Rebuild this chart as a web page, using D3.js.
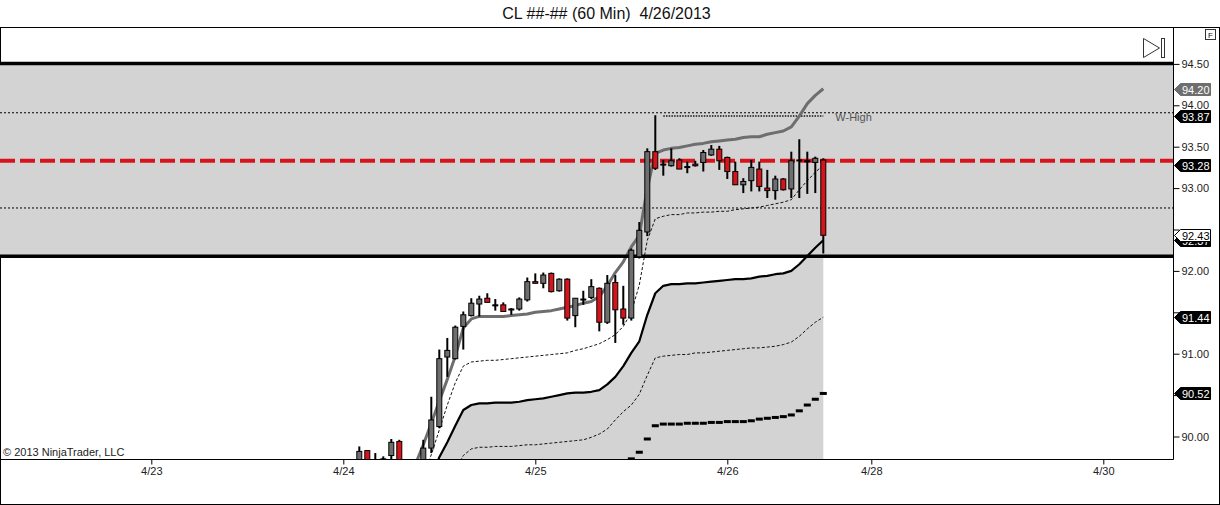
<!DOCTYPE html>
<html><head><meta charset="utf-8">
<script src="https://cdn.jsdelivr.net/npm/d3@7/dist/d3.min.js"></script>
<style>
html,body{margin:0;padding:0;background:#fff;overflow:hidden;}
svg{display:block;font-family:"Liberation Sans",Arial,sans-serif;}
</style></head><body>
<svg id="chart" width="1220" height="505"></svg>
<script>
// ---------------- data ----------------
const title = "CL ##-## (60 Min)  4/26/2013";
const firstBar = 2; // bar index of first candle (4/24 session start = bar 0)
const tickLabels = ["4/23", "4/24", "4/25", "4/26", "4/28", "4/30"];
const tickBars = [-24, 0, 24, 48, 66, 95];
const priceTicks = [90.0, 90.5, 91.0, 91.5, 92.0, 92.5, 93.0, 93.5, 94.0, 94.5];

const opens  = [89.60,89.83,89.65,89.73,89.77,89.94,89.55,89.50,89.60,89.86,90.12,90.96,90.94,91.33,91.46,91.60,91.67,91.59,91.59,91.54,91.54,91.65,91.87,91.85,91.97,91.76,91.90,91.46,91.65,91.68,91.79,91.38,91.86,91.54,91.43,92.17,92.47,93.44,93.29,93.27,93.34,93.26,93.29,93.31,93.40,93.47,93.37,93.20,93.04,93.09,93.23,93.00,92.97,93.11,92.99,93.33,93.33,93.31,93.34];
const highs  = [89.88,89.83,89.80,89.76,89.97,89.96,89.65,89.62,89.96,90.48,91.05,91.19,91.34,91.51,91.67,91.70,91.73,91.66,91.62,91.55,91.68,91.92,91.97,91.98,91.98,91.91,91.91,91.67,91.76,91.90,91.80,91.95,91.95,91.82,92.27,92.59,93.48,93.88,93.34,93.48,93.36,93.32,93.33,93.46,93.52,93.51,93.38,93.32,93.12,93.34,93.32,93.22,93.15,93.12,93.44,93.59,93.44,93.38,93.36];
const lows   = [89.50,89.50,89.55,89.60,89.60,89.50,89.40,89.35,89.50,89.80,90.10,90.72,90.93,91.05,91.45,91.45,91.62,91.52,91.51,91.47,91.52,91.63,91.85,91.79,91.74,91.75,91.40,91.32,91.59,91.66,91.27,91.36,91.13,91.35,91.40,92.15,92.42,93.22,93.15,93.26,93.23,93.18,93.26,93.20,93.39,93.22,93.11,93.04,92.94,92.96,92.96,92.88,92.86,92.97,92.88,92.88,92.93,92.94,92.21];
const closes = [89.82,89.60,89.65,89.73,89.93,89.60,89.50,89.58,89.86,90.20,90.94,91.04,91.32,91.47,91.61,91.66,91.62,91.59,91.51,91.53,91.66,91.87,91.85,91.95,91.75,91.90,91.43,91.67,91.66,91.81,91.38,91.85,91.53,91.43,92.25,92.49,93.44,93.24,93.28,93.33,93.23,93.26,93.27,93.43,93.47,93.33,93.20,93.04,93.08,93.25,93.02,92.97,93.11,92.98,93.33,93.34,93.33,93.36,92.43];

// thick gray moving average
const maLine = [null,null,null,null,null,null,null,89.66,89.90,90.16,90.43,90.69,90.97,91.31,91.42,91.45,91.45,91.45,91.45,91.46,91.47,91.48,91.50,91.51,91.52,91.54,91.56,91.58,91.61,91.63,91.69,91.82,91.98,92.11,92.29,92.43,93.00,93.42,93.46,93.48,93.49,93.51,93.53,93.54,93.56,93.57,93.58,93.59,93.61,93.62,93.62,93.65,93.67,93.69,93.74,93.87,94.02,94.12,94.20];
// thin dashed upper line
const upperDashed = [null,null,null,null,null,null,null,null,89.53,89.78,90.08,90.38,90.65,90.85,90.90,90.91,90.92,90.92,90.93,90.94,90.95,90.96,90.97,90.98,90.99,91.00,91.01,91.04,91.06,91.09,91.12,91.17,91.23,91.33,91.50,91.83,92.37,92.63,92.66,92.68,92.68,92.70,92.70,92.71,92.71,92.72,92.72,92.74,92.75,92.76,92.77,92.79,92.81,92.83,92.86,92.98,93.09,93.19,93.28];
// thick black line (top of shaded area)
const blackLine = [null,null,null,null,null,null,null,null,null,89.50,89.75,89.93,90.13,90.32,90.38,90.40,90.40,90.41,90.41,90.41,90.42,90.44,90.45,90.46,90.48,90.50,90.52,90.53,90.53,90.54,90.56,90.63,90.72,90.85,91.01,91.15,91.47,91.73,91.82,91.84,91.84,91.85,91.85,91.86,91.87,91.88,91.89,91.90,91.90,91.91,91.93,91.94,91.96,91.97,92.00,92.08,92.18,92.28,92.37];
// thin dashed lower line
const lowerDashed = [null,null,null,null,null,null,null,null,null,null,null,null,89.60,89.77,89.85,89.87,89.87,89.88,89.88,89.88,89.89,89.90,89.90,89.91,89.92,89.93,89.94,89.95,89.96,89.99,90.03,90.09,90.20,90.30,90.38,90.51,90.74,90.95,90.97,90.98,90.99,90.99,91.01,91.01,91.02,91.03,91.04,91.05,91.06,91.07,91.07,91.08,91.09,91.11,91.14,91.21,91.30,91.38,91.44];
// block markers
const markerLine = [null,null,null,null,null,null,null,null,null,null,null,null,null,null,null,null,null,null,null,null,null,null,null,null,null,null,null,null,null,null,null,null,null,null,89.73,89.81,89.97,90.13,90.15,90.15,90.15,90.16,90.16,90.16,90.17,90.17,90.18,90.18,90.18,90.19,90.21,90.22,90.23,90.24,90.26,90.31,90.38,90.45,90.52];

// horizontal levels
const zoneTop = 94.50, zoneBottom = 92.17;
const dottedLevels = [93.91, 92.76];
const redLevel = 93.33;
const wHigh = 93.87, wHighStartBar = 40, wHighEndBar = 60;

// ---------------- layout ----------------
const W = 1220, H = 505;
const plotL = 0, plotR = 1173, plotT = 28, plotB = 459;
const x = d3.scaleLinear().domain([-42.9125, 103.7125]).range([plotL, plotR]);
const y = d3.scaleLinear().domain([90, 94.5]).range([436.5, 63.9]);
const FONT = '"Liberation Sans",Arial,sans-serif';

const svg = d3.select("#chart");
svg.append("rect").attr("width", W).attr("height", H).attr("fill", "#fff");

// title
svg.append("text").attr("x", 606.5).attr("y", 19).attr("text-anchor", "middle")
  .attr("font-size", 16).attr("fill", "#111").style("white-space", "pre").text(title);

// frame
svg.append("rect").attr("x", 0.5).attr("y", 27.5).attr("width", W - 1).attr("height", H - 28)
  .attr("fill", "none").attr("stroke", "#000");

const defs = svg.append("defs");
defs.append("clipPath").attr("id", "plotclip").append("rect")
  .attr("x", plotL).attr("y", plotT).attr("width", plotR - plotL).attr("height", plotB - plotT);

const plot = svg.append("g").attr("clip-path", "url(#plotclip)");

const bars = opens.map((o, i) => ({
  j: firstBar + i, o, h: highs[i], l: lows[i], c: closes[i],
  ma: maLine[i], ud: upperDashed[i], bl: blackLine[i], ld: lowerDashed[i], mk: markerLine[i]
}));

// gray zone
plot.append("rect").attr("x", plotL).attr("width", plotR - plotL)
  .attr("y", y(zoneTop)).attr("height", y(zoneBottom) - y(zoneTop)).attr("fill", "#d3d3d3");

// thin dotted full-width levels
dottedLevels.forEach(v => {
  plot.append("line").attr("x1", plotL).attr("x2", plotR).attr("y1", y(v)).attr("y2", y(v))
    .attr("stroke", "#000").attr("stroke-width", 1).attr("stroke-dasharray", "2,2");
});

// shaded area below black line
const area = d3.area().defined(d => d.bl != null)
  .x(d => x(d.j)).y0(plotB + 10).y1(d => y(d.bl));
plot.append("path").datum(bars).attr("d", area).attr("fill", "#d3d3d3");

// lower dashed
const mkLine = key => d3.line().defined(d => d[key] != null).x(d => x(d.j)).y(d => y(d[key]));
plot.append("path").datum(bars).attr("d", mkLine("ld")).attr("fill", "none")
  .attr("stroke", "#111").attr("stroke-width", 1).attr("stroke-dasharray", "3,2");

// black thick line
plot.append("path").datum(bars).attr("d", mkLine("bl")).attr("fill", "none")
  .attr("stroke", "#000").attr("stroke-width", 2.2).attr("stroke-linejoin", "round");

// block markers
plot.selectAll("rect.mk").data(bars.filter(d => d.mk != null)).join("rect").attr("class", "mk")
  .attr("x", d => x(d.j) - 3.5).attr("y", d => y(d.mk) - 1.5).attr("width", 7).attr("height", 3)
  .attr("fill", "#000");

// upper dashed
plot.append("path").datum(bars).attr("d", mkLine("ud")).attr("fill", "none")
  .attr("stroke", "#111").attr("stroke-width", 1).attr("stroke-dasharray", "3,2");

// W-High
plot.append("line").attr("x1", x(wHighStartBar)).attr("x2", x(wHighEndBar))
  .attr("y1", y(wHigh)).attr("y2", y(wHigh))
  .attr("stroke", "#444").attr("stroke-width", 2).attr("stroke-dasharray", "1.5,1.2");
plot.append("text").attr("x", x(wHighEndBar) + 12).attr("y", y(wHigh) + 4.5)
  .attr("font-size", 11).attr("fill", "#555").text("W-High");

// red dashed level
plot.append("line").attr("x1", plotL).attr("x2", plotR).attr("y1", y(redLevel)).attr("y2", y(redLevel))
  .attr("stroke", "#d7141c").attr("stroke-width", 4).attr("stroke-dasharray", "15,5");

// moving average
plot.append("path").datum(bars).attr("d", mkLine("ma")).attr("fill", "none")
  .attr("stroke", "#6e6e6e").attr("stroke-width", 3).attr("stroke-linejoin", "round");

// zone bounding thick lines
[zoneTop, zoneBottom].forEach(v => {
  plot.append("line").attr("x1", plotL).attr("x2", plotR).attr("y1", y(v) - 0.5).attr("y2", y(v) - 0.5)
    .attr("stroke", "#000").attr("stroke-width", 3.5);
});

// candles
const cg = plot.append("g");
cg.selectAll("line.wick").data(bars).join("line").attr("class", "wick")
  .attr("x1", d => x(d.j)).attr("x2", d => x(d.j))
  .attr("y1", d => y(d.h)).attr("y2", d => y(d.l))
  .attr("stroke", "#000").attr("stroke-width", 2);
cg.selectAll("rect.body").data(bars).join("rect").attr("class", "body")
  .attr("x", d => x(d.j) - 2.5).attr("width", 5)
  .attr("y", d => y(Math.max(d.o, d.c)))
  .attr("height", d => Math.max(1, Math.abs(y(d.o) - y(d.c))))
  .attr("fill", d => d.c > d.o ? "#6e6e6e" : (d.c < d.o ? "#d7141c" : "#000"))
  .attr("stroke", "#000").attr("stroke-width", 1);

// copyright
svg.append("text").attr("x", 3).attr("y", 456).attr("font-size", 11).attr("fill", "#222")
  .text("\u00A9 2013 NinjaTrader, LLC");

// axes lines
svg.append("line").attr("x1", plotR + 0.5).attr("x2", plotR + 0.5).attr("y1", plotT).attr("y2", plotB + 0.5)
  .attr("stroke", "#000");
svg.append("line").attr("x1", 0).attr("x2", plotR + 0.5).attr("y1", plotB + 0.5).attr("y2", plotB + 0.5)
  .attr("stroke", "#000");

// price markers on axis (values taken from the series' last points)
const last = bars[bars.length - 1];
const markers = [
  { v: last.ma, fill: "#6e6e6e", text: "#fff", stroke: "#6e6e6e" },
  { v: wHigh, fill: "#000", text: "#fff", stroke: "#000" },
  { v: last.ud, fill: "#000", text: "#fff", stroke: "#000" },
  { v: last.bl, fill: "#000", text: "#fff", stroke: "#000" },
  { v: last.c, fill: "#fff", text: "#000", stroke: "#000" },
  { v: last.ld, fill: "#000", text: "#fff", stroke: "#000" },
  { v: last.mk, fill: "#000", text: "#fff", stroke: "#000" }
];

// y axis: tick labels hidden where a price marker covers them
const hiddenTick = t => markers.some(m => Math.abs(y(m.v) - y(t)) < 8);
const yAxis = d3.axisRight(y).tickValues(priceTicks)
  .tickFormat(t => hiddenTick(t) ? "" : d3.format(".2f")(t)).tickSize(6).tickPadding(2);
const yg = svg.append("g").attr("transform", `translate(${plotR + 0.5},0)`).call(yAxis);
yg.select(".domain").remove();
yg.selectAll("text").attr("font-size", 11).attr("font-family", FONT).attr("fill", "#222");
yg.selectAll("line").attr("stroke", "#000");

// x axis
const xAxis = d3.axisBottom(x).tickValues(tickBars).tickFormat((d, i) => tickLabels[i]).tickSize(5).tickPadding(3);
const xg = svg.append("g").attr("transform", `translate(0,${plotB + 0.5})`).call(xAxis);
xg.select(".domain").remove();
xg.selectAll("text").attr("font-size", 11).attr("font-family", FONT).attr("fill", "#222");
xg.selectAll("line").attr("stroke", "#000");

const mg = svg.append("g");
markers.forEach(m => {
  const cy = Math.round(y(m.v)) + 0.5;
  const x0 = plotR + 1.5, x1 = x0 + 6, x2 = 1210.5, hh = 6;
  mg.append("path")
    .attr("d", `M${x0},${cy}L${x1},${cy - hh}L${x2},${cy - hh}L${x2},${cy + hh}L${x1},${cy + hh}Z`)
    .attr("fill", m.fill).attr("stroke", m.stroke).attr("stroke-width", 1);
  mg.append("text").attr("x", x1 + 1.5).attr("y", cy + 4).attr("font-size", 11)
    .attr("fill", m.text).text(d3.format(".2f")(m.v));
});

// top-right icons
svg.append("path").attr("d", "M1143.5,38.5L1159.5,48L1143.5,57.5Z").attr("fill", "#fff")
  .attr("stroke", "#333").attr("stroke-width", 1);
svg.append("rect").attr("x", 1161.5).attr("y", 38.5).attr("width", 3).attr("height", 19)
  .attr("fill", "#fff").attr("stroke", "#333").attr("stroke-width", 1);
svg.append("rect").attr("x", 1205.5).attr("y", 29.5).attr("width", 10).attr("height", 10)
  .attr("fill", "#fff").attr("stroke", "#333").attr("stroke-width", 1);
svg.append("text").attr("x", 1210.5).attr("y", 37.5).attr("text-anchor", "middle")
  .attr("font-size", 8).attr("fill", "#111").text("F");
</script>
</body></html>
